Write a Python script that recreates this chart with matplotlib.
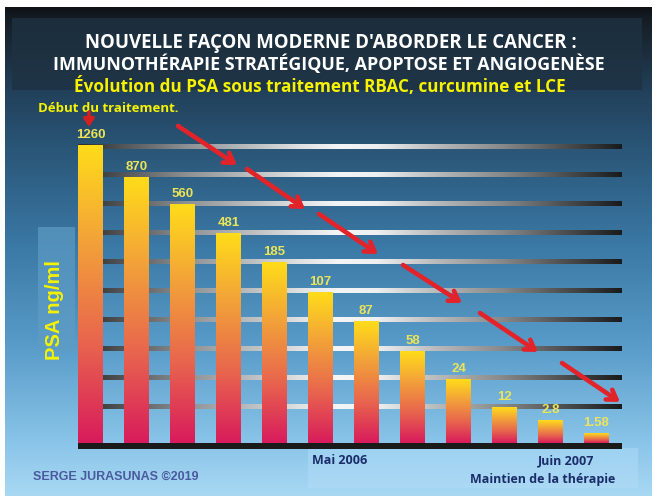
import numpy as np
import matplotlib.pyplot as plt
from matplotlib.colors import LinearSegmentedColormap
from matplotlib.patches import Rectangle

# PSA values (labels) and bar heights as drawn (pixels above the base line)
psa_labels = ["1260", "870", "560", "481", "185", "107", "87", "58", "24", "12", "2.8", "1.58"]
bar_heights = [298, 266, 239, 210, 181, 151, 122, 92, 64, 36, 23, 10]
grid_levels = [36, 65, 94, 123, 152, 181, 210, 239, 268, 296]

# decorative arrows (pixel coords on the picture): start -> end
arrows = [((178, 126), (237, 165)), ((247, 169), (305, 209)), ((319, 214), (378, 254)),
          ((403, 265), (462, 303)), ((480, 313), (538, 352)), ((562, 363), (620, 402))]

W, H = 655, 496
fig = plt.figure(figsize=(W / 100, H / 100), dpi=100)
fig.patch.set_facecolor("white")

# full-figure axes in pixel units for background and texts
bg = fig.add_axes([0, 0, 1, 1])
bg.axis("off")

bg_cmap = LinearSegmentedColormap.from_list("bg", [
    (0.0, "#0f1317"), (0.03, "#161f27"), (0.17, "#22405a"), (0.29, "#2a5677"),
    (0.49, "#3b79a6"), (0.70, "#5a9dca"), (0.90, "#8cc6ea"), (1.0, "#a8d8f2")])
grad = np.linspace(0, 1, 256).reshape(-1, 1)
bg.imshow(grad, extent=(5, 652, 496, 7), cmap=bg_cmap, aspect="auto", zorder=0)
bg.set_xlim(0, W)
bg.set_ylim(H, 0)

# title box
bg.add_patch(Rectangle((12, 18), 630, 72, facecolor="#1e3242", alpha=0.8, lw=0, zorder=1))
# y label box
bg.add_patch(Rectangle((38, 227), 37, 125, facecolor="#5d9cc4", alpha=0.7, lw=0, zorder=1))
# bottom box
bg.add_patch(Rectangle((308, 448), 330, 40, facecolor="#b4defa", alpha=0.45, lw=0, zorder=1))

title_font = "Open Sans"
bg.text(331, 43, "NOUVELLE FAÇON MODERNE D'ABORDER LE CANCER :", color="white",
        fontsize=13.4, fontweight="bold", family=title_font, ha="center", va="center", zorder=3)
bg.text(329, 64, "IMMUNOTHÉRAPIE STRATÉGIQUE, APOPTOSE ET ANGIOGENÈSE", color="white",
        fontsize=12.9, fontweight="bold", family=title_font, ha="center", va="center", zorder=3)
bg.text(320, 87, "Évolution du PSA sous traitement RBAC, curcumine et LCE", color="#f6f200",
        fontsize=12.3, fontweight="bold", family=title_font, ha="center", va="center", zorder=3)

bg.text(38, 108, "Début du traitement.", color="#f6f200", fontsize=9.5, fontweight="bold",
        family=title_font, ha="left", va="center", zorder=3)

bg.text(55, 310, "PSA ng/ml", color="#f6f200", fontsize=14.5, fontweight="bold",
        family="Liberation Sans", rotation=90, ha="center", va="center", zorder=3)

bg.text(33, 477, "SERGE JURASUNAS ©2019", color="#4a5a9e", fontsize=9, fontweight="bold",
        family="Liberation Sans", ha="left", va="center", zorder=3)
bg.text(312, 461, "Mai 2006", color="#1a2d6a", fontsize=9, fontweight="bold",
        family=title_font, ha="left", va="center", zorder=3)
bg.text(538, 461, "Juin 2007", color="#1a2d6a", fontsize=9, fontweight="bold",
        family=title_font, ha="left", va="center", zorder=3)
bg.text(470, 479, "Maintien de la thérapie", color="#1a2d6a", fontsize=9, fontweight="bold",
        family=title_font, ha="left", va="center", zorder=3)

# chart axes: x = bar index, y = pixels above base
left_px, right_px, base_px, top_px = 78, 622, 443, 100
step, x0_px = 46, 90.5
ax = fig.add_axes([left_px / W, (H - base_px - 6) / H, (right_px - left_px) / W, (base_px + 6 - top_px) / H])
ax.patch.set_alpha(0)
ax.axis("off")
xlim = ((left_px - x0_px) / step, (right_px - x0_px) / step)

grid_cmap = LinearSegmentedColormap.from_list("grid", [
    (0.0, "#2a2c2e"), (0.2, "#8e9194"), (0.4, "#dcdedf"), (0.48, "#f4f5f6"),
    (0.55, "#eeeff0"), (0.66, "#b8babc"), (0.78, "#88898b"), (0.89, "#505153"), (1.0, "#1a1b1c")])
hgrad = np.linspace(0, 1, 256).reshape(1, -1)
for g in grid_levels:
    ax.imshow(hgrad, extent=(xlim[0], xlim[1], g - 2.3, g + 2.3), cmap=grid_cmap,
              aspect="auto", zorder=1)

# base line
ax.add_patch(Rectangle((xlim[0], -6), xlim[1] - xlim[0], 6, facecolor="#1a1a1a", lw=0, zorder=3))

bar_cmap = LinearSegmentedColormap.from_list("bar", ["#d81b5c", "#e8644e", "#f2a03a", "#ffdc1a"])
xs = np.arange(len(bar_heights))
width = 25 / step
bars = ax.bar(xs, bar_heights, width=width, color="none", lw=0, zorder=2)
vgrad = np.linspace(0, 1, 256).reshape(-1, 1)
for b, h in zip(bars, bar_heights):
    im = ax.imshow(vgrad, extent=(b.get_x(), b.get_x() + width, 0, h), origin="lower",
                   cmap=bar_cmap, aspect="auto", zorder=2)
    im.set_clip_path(b)

for x, h, lab in zip(xs, bar_heights, psa_labels):
    ax.text(x, h + 4, lab, color="#ece458", fontsize=9.5, fontweight="bold",
            family="Liberation Sans", ha="center", va="bottom", zorder=4)

ax.set_xlim(*xlim)
ax.set_ylim(-6, base_px - top_px)

# overlay axes for the red arrows (drawn above the grid lines)
top = fig.add_axes([0, 0, 1, 1])
top.patch.set_alpha(0)
top.axis("off")
top.set_xlim(0, W)
top.set_ylim(H, 0)
top.annotate("", xy=(89, 127), xytext=(89, 112),
             arrowprops=dict(arrowstyle="-|>,head_length=0.45,head_width=0.3", color="#d42020",
                             lw=2.5, shrinkA=0, shrinkB=0))
for (x0, y0), (x1, y1) in arrows:
    top.annotate("", xy=(x1, y1), xytext=(x0, y0),
                 arrowprops=dict(arrowstyle="->,head_length=0.65,head_width=0.42",
                                 color="#e3232a", lw=3.3, shrinkA=0, shrinkB=0))

fig.savefig("out.png", dpi=100, facecolor=fig.get_facecolor())
